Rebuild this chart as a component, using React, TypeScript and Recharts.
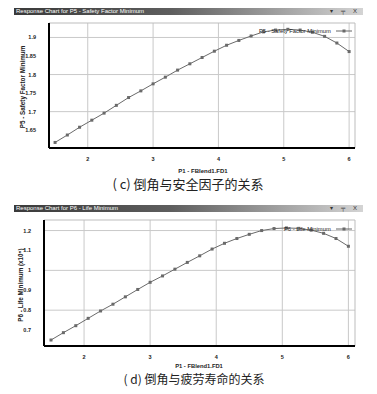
import React from "react"
import { LineChart, Line, XAxis, YAxis, CartesianGrid, ReferenceLine, Legend } from "recharts"

const fdValues = [
  1.5, 1.6875, 1.875, 2.0625, 2.25, 2.4375, 2.625, 2.8125, 3, 3.1875, 3.375, 3.5625, 3.75,
  3.9375, 4.125, 4.3125, 4.5, 4.6875, 4.875, 5.0625, 5.25, 5.4375, 5.625, 5.8125, 6,
]
const safetyFactor = [
  1.617, 1.637, 1.658, 1.677, 1.696, 1.717, 1.738, 1.756, 1.775, 1.793, 1.812, 1.829, 1.846,
  1.863, 1.879, 1.892, 1.904, 1.915, 1.92, 1.922, 1.92, 1.914, 1.903, 1.885, 1.862,
]
const lifeMin = [
  0.65, 0.687, 0.722, 0.759, 0.796, 0.83, 0.867, 0.904, 0.94, 0.972, 1.006, 1.04, 1.073,
  1.107, 1.136, 1.16, 1.181, 1.2, 1.21, 1.213, 1.211, 1.202, 1.186, 1.16, 1.121,
]
const xTicks = [2, 3, 4, 5, 6]
const safetyTicks = [1.65, 1.7, 1.75, 1.8, 1.85, 1.9]
const lifeTicks = [0.7, 0.8, 0.9, 1, 1.1, 1.2]

const safetyData = fdValues.map((x, i) => ({ x, y: safetyFactor[i] }))
const lifeData = fdValues.map((x, i) => ({ x, y: lifeMin[i] }))

const tickStyle = { fill: "#222", fontSize: 5.5, fontFamily: "Liberation Sans", fontWeight: 700 }

const SquareDot = (props: any) => {
  const { cx, cy, index } = props
  if (cx == null || cy == null) return <g key={index} />
  return <rect key={index} x={cx - 1.5} y={cy - 1.5} width={3} height={3} fill="#6a6a6a" />
}

function LegendBox({ label }: { label: string }) {
  return (
    <div style={{ display: "flex", alignItems: "center", fontFamily: "Liberation Sans", fontSize: 5.8, color: "#222" }}>
      <span>{label}</span>
      <svg width={18} height={6} style={{ marginLeft: 4 }}>
        <line x1={1} y1={3} x2={17} y2={3} stroke="#666" strokeWidth={1} />
        <rect x={7.5} y={1.5} width={3} height={3} fill="#6a6a6a" />
      </svg>
    </div>
  )
}

function TitleBar({ top, text }: { top: number; text: string }) {
  return (
    <div
      style={{
        position: "absolute",
        left: 14,
        top,
        width: 349,
        height: 7,
        background: "linear-gradient(to right, #3a3a3a, #5e5e5e 45%, #d4d4d4)",
        fontFamily: "Liberation Sans",
        fontSize: 6,
        lineHeight: "7px",
        color: "#fff",
        paddingLeft: 2,
        boxSizing: "border-box",
        whiteSpace: "nowrap",
      }}
    >
      {text}
      <span style={{ position: "absolute", right: 3, top: 0, color: "#333", letterSpacing: 3 }}>▾ ╤ X</span>
    </div>
  )
}

function Text({ x, y, size, children, rotate, family, weight }: any) {
  return (
    <div
      style={{
        position: "absolute",
        left: x,
        top: y,
        transform: `translate(-50%, -50%)${rotate ? " rotate(-90deg)" : ""}`,
        fontSize: size,
        fontFamily: family || "Liberation Sans",
        fontWeight: weight || 400,
        whiteSpace: "nowrap",
        color: "#222",
        lineHeight: 1,
      }}
    >
      {children}
    </div>
  )
}

function Panel(props: {
  top: number
  height: number
  data: { x: number; y: number }[]
  yDomain: [number, number]
  xDomain: [number, number]
  yTicks: number[]
  yWidth: number
  plotTop: number
  plotBottom: number
  legend: string
  legendTop: number
  legendLeft: number
}) {
  const { top, height, data, yDomain, xDomain, yTicks, yWidth, plotTop, plotBottom } = props
  return (
    <div style={{ position: "absolute", left: 0, top }}>
      <LineChart
        width={377}
        height={height}
        data={data}
        margin={{ top: plotTop, right: 22, left: 0, bottom: height - plotBottom - 20 }}
      >
        <CartesianGrid stroke="#c9c9c9" strokeWidth={1} horizontalValues={yTicks} verticalValues={xTicks} />
        <ReferenceLine y={yDomain[1]} stroke="#bdbdbd" ifOverflow="extendDomain" />
        <ReferenceLine x={xDomain[1]} stroke="#bdbdbd" ifOverflow="extendDomain" />
        <XAxis
          dataKey="x"
          type="number"
          domain={xDomain}
          ticks={xTicks}
          allowDataOverflow
          height={20}
          tickLine={false}
          tickMargin={3}
          axisLine={{ stroke: "#000", strokeWidth: 2 }}
          tick={tickStyle}
        />
        <YAxis
          type="number"
          domain={yDomain}
          ticks={yTicks}
          allowDataOverflow
          width={yWidth}
          tickLine={false}
          tickMargin={7}
          axisLine={{ stroke: "#000", strokeWidth: 2 }}
          tick={tickStyle}
        />
        <Legend
          content={() => <LegendBox label={props.legend} />}
          wrapperStyle={{ position: "absolute", top: props.legendTop, left: props.legendLeft, width: "auto" }}
        />
        <Line
          dataKey="y"
          stroke="#6a6a6a"
          strokeWidth={1}
          dot={SquareDot}
          activeDot={false}
          isAnimationActive={false}
        />
      </LineChart>
    </div>
  )
}

export default function App() {
  return (
    <div style={{ position: "absolute", left: 0, top: 0, width: 377, height: 394, background: "#fff", overflow: "hidden" }}>
      <TitleBar top={8} text="Response Chart for P5 - Safety Factor Minimum" />
      <Panel
        top={0}
        height={194}
        data={safetyData}
        yDomain={[1.602, 1.939]}
        xDomain={[1.407, 6.09]}
        yTicks={safetyTicks}
        yWidth={49}
        plotTop={23}
        plotBottom={154}
        legend="P5 - Safety Factor Minimum"
        legendTop={28}
        legendLeft={259}
      />
      <Text x={23} y={87} size={6.3} rotate weight={700}>P5 - Safety Factor Minimum</Text>
      <Text x={203} y={170.5} size={6} weight={700}>P1 - FBlend1.FD1</Text>
      <Text x={188} y={182.5} size={13} family="'Noto Sans CJK SC', serif">( c) 倒角与安全因子的关系</Text>

      <TitleBar top={205} text="Response Chart for P6 - Life Minimum" />
      <Panel
        top={197}
        height={197}
        data={lifeData}
        yDomain={[0.62, 1.253]}
        xDomain={[1.394, 6.1]}
        yTicks={lifeTicks}
        yWidth={44}
        plotTop={23}
        plotBottom={155}
        legend="P6 - Life Minimum"
        legendTop={29}
        legendLeft={284}
      />
      <Text x={21} y={285} size={6.3} rotate weight={700}>P6 - Life Minimum (x10⁵)</Text>
      <Text x={199} y={367} size={5.8} weight={700}>P1 - FBlend1.FD1</Text>
      <Text x={194} y={378.5} size={12} family="'Noto Sans CJK SC', serif">( d) 倒角与疲劳寿命的关系</Text>
    </div>
  )
}
